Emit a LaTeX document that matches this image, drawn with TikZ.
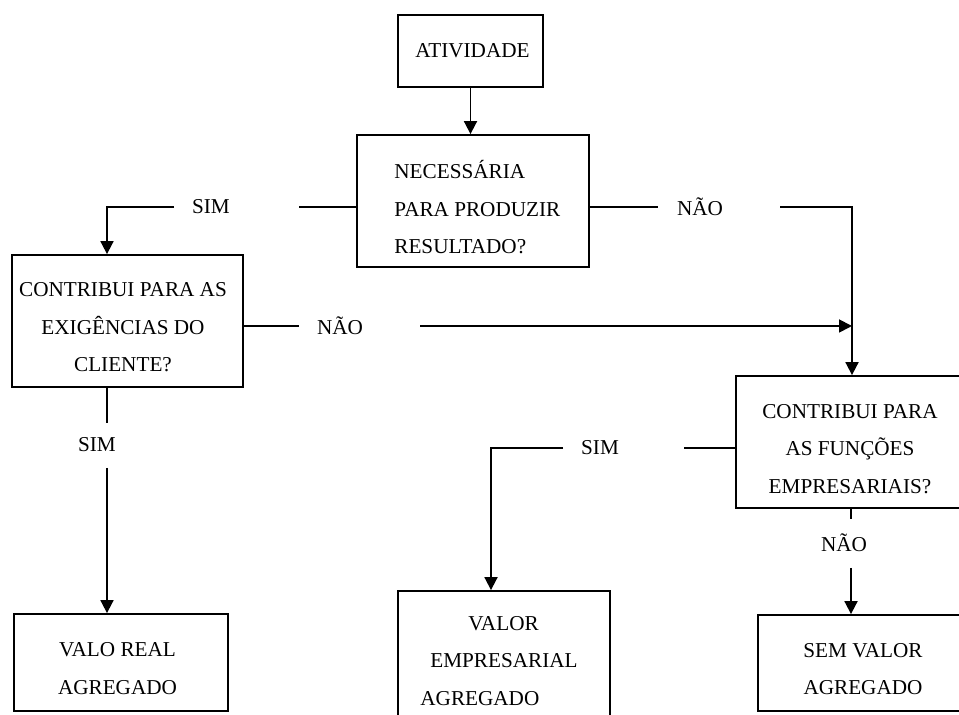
\documentclass[tikz,border=0pt]{standalone}
\usepackage{fontspec}
\setmainfont{Liberation Serif}
\usetikzlibrary{arrows.meta}

\begin{document}
\begin{tikzpicture}[x=0.5pt,y=-0.5pt,
    box/.style={draw,line width=0.9pt,inner sep=0pt},
    txt/.style={font=\fontsize{10.6}{18.75}\selectfont,inner sep=0pt},
    ln/.style={line width=0.9pt},
    arr/.style={line width=0.9pt,-{Triangle[length=6.5pt,width=6.5pt]}}]
    \useasboundingbox (0,0) rectangle (959,715);
    \clip (0,0) rectangle (959,715);

    \node[box,minimum width=72.5pt,minimum height=36pt] (act) at (470.5,51) {};
    \node[box,minimum width=116pt,minimum height=66pt] (nec) at (473,201) {};
    \node[box,minimum width=115.5pt,minimum height=66pt] (cli) at (127.5,321) {};
    \node[box,minimum width=114pt,minimum height=66pt] (emp) at (850,442) {};
    \node[box,minimum width=107pt,minimum height=48.5pt] (real) at (121,662.5) {};
    \node[box,minimum width=106pt,minimum height=66pt] (val) at (504,657) {};
    \node[box,minimum width=105pt,minimum height=48pt] (sem) at (863,663) {};

    \node[txt] (actT) at (472.5,51) {ATIVIDADE};
    \node[txt,align=left,anchor=west] (necT) at (394,207.5) {NECESSÁRIA\\PARA PRODUZIR\\RESULTADO?};
    \node[txt,align=center] (cliT) at (123,327.5) {CONTRIBUI PARA AS\\EXIGÊNCIAS DO\\CLIENTE?};
    \node[txt,align=center] (empT) at (850,449) {CONTRIBUI PARA\\AS FUNÇÕES\\EMPRESARIAIS?};
    \node[txt,align=center] (realT) at (117.5,668.5) {VALO REAL\\AGREGADO};
    \node[txt,align=left,anchor=west] (valT) at (420,661) {\hspace*{24pt}VALOR\\\hspace*{5pt}EMPRESARIAL\\AGREGADO};
    \node[txt,align=center] (semT) at (863,669) {SEM VALOR\\AGREGADO};

    \node[txt] (s1) at (211,207) {SIM};
    \node[txt] (n1) at (700,207) {NÃO};
    \node[txt] (n2) at (340,326) {NÃO};
    \node[txt] (s2) at (97,445) {SIM};
    \node[txt] (s3) at (600,448) {SIM};
    \node[txt] (n3) at (844,543) {NÃO};

    \coordinate (s1r) at (299,207);
    \coordinate (s1l) at (174,207);
    \coordinate (c1) at (107,207);
    \coordinate (n1l) at (658,207);
    \coordinate (n1r) at (780,207);
    \coordinate (c2) at (852,207);
    \coordinate (n2l) at (299,326);
    \coordinate (n2r) at (420,326);
    \coordinate (s2t) at (107,423);
    \coordinate (s2b) at (107,468);
    \coordinate (s3r) at (684,448);
    \coordinate (s3l) at (563,448);
    \coordinate (c3) at (491,448);
    \coordinate (n3t) at (851,519);
    \coordinate (n3b) at (851,568);

    \draw[arr] (act.south) -- (act.south |- nec.north);
    \draw[ln] (nec.west |- s1r) -- (s1r);
    \draw[arr] (s1l) -- (c1) -- (c1 |- cli.north);
    \draw[ln] (nec.east |- n1l) -- (n1l);
    \draw[arr] (n1r) -- (c2) -- (c2 |- emp.north);
    \draw[ln] (cli.east |- n2l) -- (n2l);
    \draw[arr] (n2r) -- (c2 |- n2r);
    \draw[ln] (s2t |- cli.south) -- (s2t);
    \draw[arr] (s2b) -- (s2b |- real.north);
    \draw[ln] (emp.west |- s3r) -- (s3r);
    \draw[arr] (s3l) -- (c3) -- (c3 |- val.north);
    \draw[ln] (n3t |- emp.south) -- (n3t);
    \draw[arr] (n3b) -- (n3b |- sem.north);
\end{tikzpicture}
\end{document}
